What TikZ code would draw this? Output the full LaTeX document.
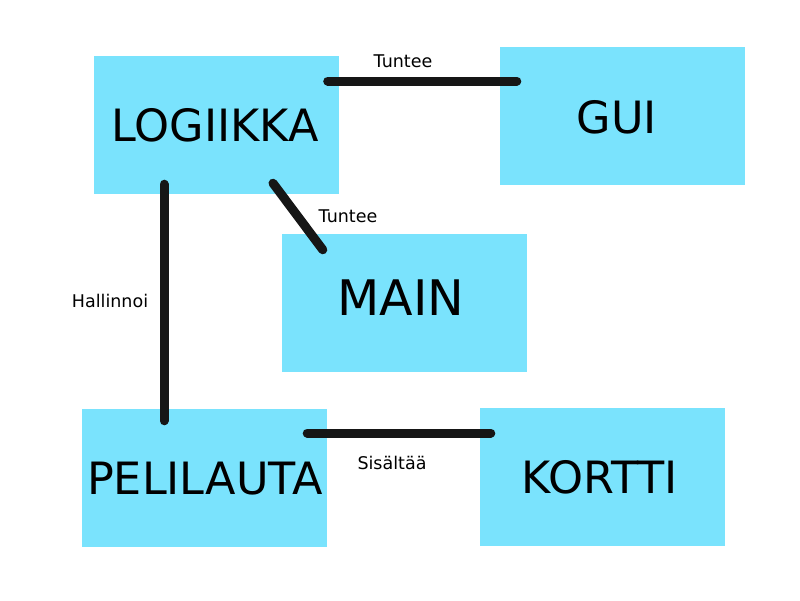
\documentclass[tikz,border=0pt]{standalone}
\usepackage{fontspec}
\setmainfont{DejaVu Sans}
\definecolor{boxcyan}{RGB}{122,227,253}
\definecolor{linedark}{RGB}{22,22,22}
\begin{document}
\begin{tikzpicture}[x=1pt,y=-1pt,
  block/.style={fill=boxcyan,draw=none,minimum width=245pt,minimum height=138pt,inner sep=0pt,anchor=center},
  bigtxt/.style={font=\fontsize{44.5}{52}\selectfont},
  conn/.style={draw=linedark,line width=9pt,line cap=round},
  lbl/.style={font=\fontsize{17.5}{20}\selectfont,inner sep=0pt}]
\useasboundingbox[fill=white] (0,0) rectangle (800,600);
\node[block] (logiikka) at (216,125) {};
\node[block] (gui) at (622.5,116) {};
\node[block] (main) at (404.5,303) {};
\node[block] (pelilauta) at (204.5,478) {};
\node[block] (kortti) at (602.5,477) {};
\node[bigtxt] (tlog) at (215,125) {LOGIIKKA};
\node[bigtxt] (tgui) at (617,117) {GUI};
\node[font=\fontsize{49}{57}\selectfont] (tmain) at (401,298) {MAIN};
\node[bigtxt] (tpel) at (205,479) {PELILAUTA};
\node[bigtxt] (tkor) at (600,477) {KORTTI};
\draw[conn] ([xshift=-11pt,yshift=44pt]logiikka.east) -- ([xshift=17pt,yshift=35pt]gui.west);
\draw[conn] ([xshift=57pt,yshift=11pt]logiikka.south) -- ([xshift=41pt,yshift=-16pt]main.north west);
\draw[conn] ([xshift=-52pt,yshift=10pt]logiikka.south) -- ([xshift=-40.5pt,yshift=-12pt]pelilauta.north);
\draw[conn] ([xshift=-20pt,yshift=45pt]pelilauta.east) -- ([xshift=11pt,yshift=44pt]kortti.west);
\node[lbl] (l1) at (403,61) {Tuntee};
\node[lbl] (l2) at (348,216) {Tuntee};
\node[lbl] (l3) at (110,301) {Hallinnoi};
\node[lbl] (l4) at (392,463) {Sisältää};
\end{tikzpicture}
\end{document}
